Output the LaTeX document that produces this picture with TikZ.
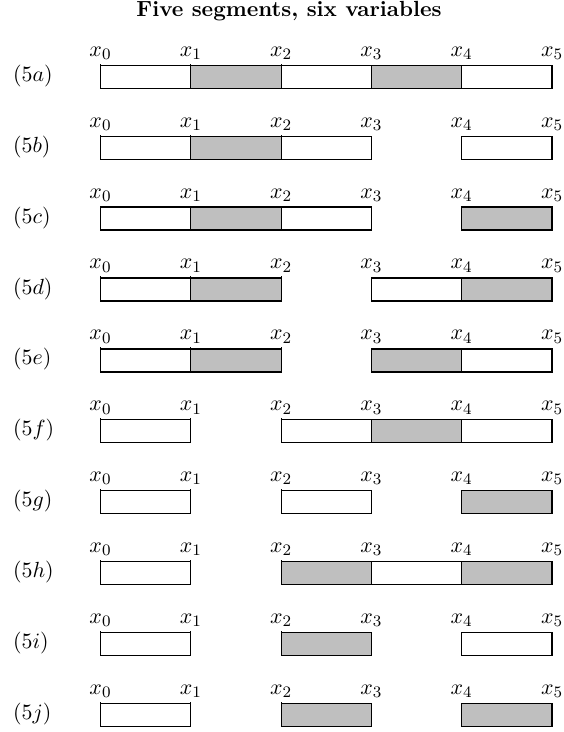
\documentclass[tikz,border=0pt,11pt]{standalone}
\begin{document}
\begin{tikzpicture}[x=0.5pt,y=-0.5pt]
\useasboundingbox (0,0) rectangle (563,732);
\tikzset{
  seg/.style={draw, line width=0.6pt, minimum width=45.15pt, minimum height=11.5pt,
    inner sep=0pt, outer sep=0pt, anchor=north west},
  segw/.style={seg, fill=white},
  segg/.style={seg, fill=gray!50},
  xlab/.style={anchor=base, inner sep=0pt},
  rowlab/.style={anchor=base west, inner sep=0pt},
  tick/.style={line width=0.6pt},
  titlestyle/.style={anchor=base, inner sep=0pt, font=\bfseries}
}
\node[titlestyle] (title) at (289,16.5) {Five segments, six variables};
\foreach \r/\lab/\segs in {
  0/a/{0/w,1/g,2/w,3/g,4/w},
  1/b/{0/w,1/g,2/w,4/w},
  2/c/{0/w,1/g,2/w,4/g},
  3/d/{0/w,1/g,3/w,4/g},
  4/e/{0/w,1/g,3/g,4/w},
  5/f/{0/w,2/w,3/g,4/w},
  6/g/{0/w,2/w,4/g},
  7/h/{0/w,2/g,3/w,4/g},
  8/i/{0/w,2/g,4/w},
  9/j/{0/w,2/g,4/g}}{
  \pgfmathsetmacro{\top}{65.3+70.9*\r}
  \node[rowlab] (row-\lab) at (12.7,\top+16) {$(5\lab)$};
  \foreach \s/\f in \segs {
    \node[seg\f] (s-\lab-\s) at (100.5+90.3*\s,\top) {};
  }
  \foreach \j in {0,...,5} {
    \node[xlab] (x-\lab-\j) at (100.5+90.3*\j,\top-9) {$x_{\j}$};
  }
  \foreach \j in {0,1,2} {
    \draw[tick] (100.5+90.3*\j,\top) -- (100.5+90.3*\j,\top-1.5);
  }
}
\end{tikzpicture}
\end{document}
